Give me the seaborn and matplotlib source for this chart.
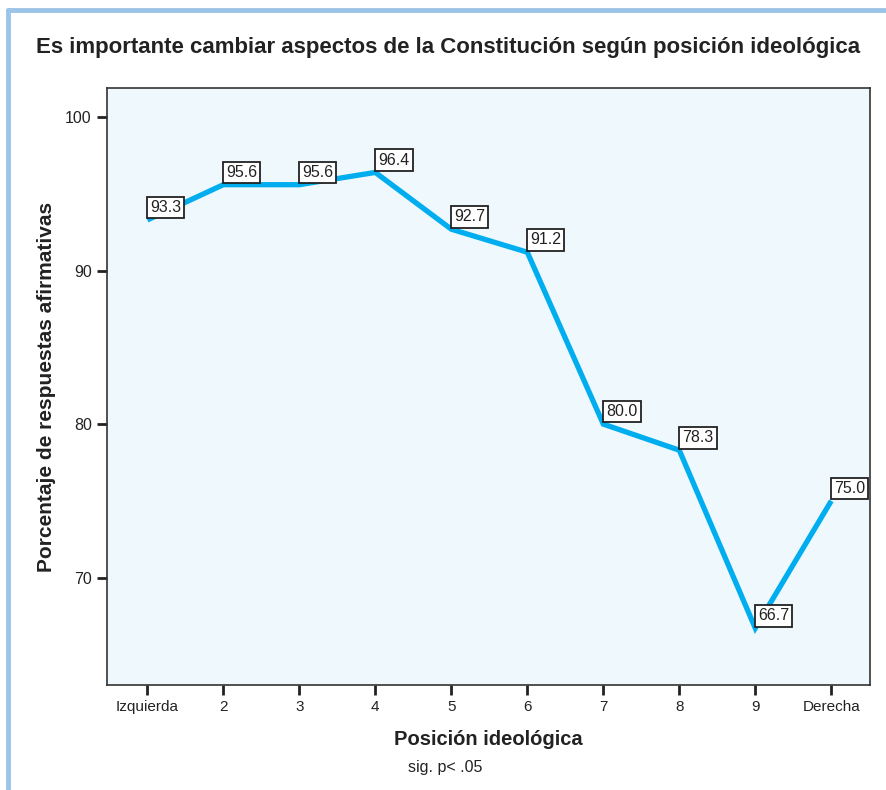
import matplotlib
matplotlib.use("Agg")
import matplotlib.pyplot as plt
from matplotlib.lines import Line2D
import seaborn as sns
import pandas as pd

# datos
posiciones = ['Izquierda', '2', '3', '4', '5', '6', '7', '8', '9', 'Derecha']
porcentajes = [93.3, 95.6, 95.6, 96.4, 92.7, 91.2, 80.0, 78.3, 66.7, 75.0]
yticks = [70, 80, 90, 100]

df = pd.DataFrame({'idx': range(len(posiciones)), 'pct': porcentajes})

sns.set_style('ticks')
plt.rcParams['font.family'] = ['Liberation Sans', 'DejaVu Sans']

fig = plt.figure(figsize=(8.86, 7.9), dpi=100)
ax = fig.add_axes([0.1208, 0.1329, 0.8612, 0.7557])
ax.set_facecolor('#eef8fd')

sns.lineplot(data=df, x='idx', y='pct', color='#00aeef', linewidth=3.8, ax=ax,
             solid_capstyle='butt', solid_joinstyle='miter')

for i, v in enumerate(porcentajes):
    ax.annotate(f'{v:.1f}', (i, v), xytext=(2.0, 3.5), textcoords='offset points',
                ha='left', va='bottom', fontsize=11.5, color='#222222',
                bbox=dict(boxstyle='square,pad=0.2', fc='white', ec='#222222', lw=1.3))

ax.set_xlim(-0.53, 9.51)
ax.set_ylim(63.0, 101.9)
ax.set_xticks(range(len(posiciones)))
ax.set_xticklabels(posiciones, fontsize=11)
ax.set_yticks(yticks)
ax.set_yticklabels([str(t) for t in yticks], fontsize=11.5)
ax.tick_params(direction='out', length=7, width=2, color='#222222', labelcolor='#222222', pad=4)
for s in ax.spines.values():
    s.set_color('#333333')
    s.set_linewidth(1.2)

ax.set_xlabel('Posición ideológica', fontsize=14.5, fontweight='bold', color='#222222')
ax.set_ylabel('Porcentaje de respuestas afirmativas', fontsize=15, fontweight='bold', color='#222222')
ax.xaxis.set_label_coords(0.5, -0.075)
ax.yaxis.set_label_coords(-0.067, 0.5)

fig.text(0.506, 0.94, 'Es importante cambiar aspectos de la Constitución según posición ideológica',
         ha='center', va='center', fontsize=16, fontweight='bold', color='#222222')
fig.text(0.503, 0.028, 'sig. p< .05', ha='center', va='center', fontsize=11.5, color='#222222')

# marco azul
fig.add_artist(Line2D([8 / 886, 1], [1 - 10 / 790, 1 - 10 / 790], color='#9cc3e8', lw=3.5, transform=fig.transFigure))
fig.add_artist(Line2D([8 / 886, 8 / 886], [0, 1 - 10 / 790], color='#9cc3e8', lw=3.5, transform=fig.transFigure))

fig.savefig('out.png', dpi=100)
